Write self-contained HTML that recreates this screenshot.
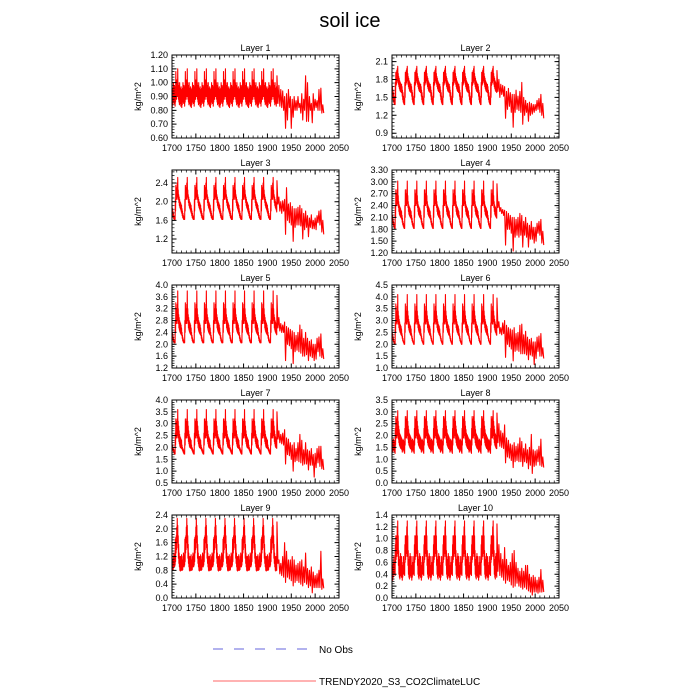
<!DOCTYPE html>
<html><head><meta charset="utf-8"><style>
html,body{margin:0;padding:0;background:#fff;}
svg{display:block;font-family:"Liberation Sans",sans-serif;}
</style></head><body>
<svg id="chart" width="700" height="700" viewBox="0 0 700 700" xmlns="http://www.w3.org/2000/svg">
<text x="350" y="27" text-anchor="middle" font-size="20">soil ice</text>
<g id="panels"></g>
<g>
<line x1="213" y1="649" x2="307" y2="649" stroke="#6666dd" stroke-width="1" stroke-dasharray="10,11"/>
<text x="319" y="653" font-size="10">No Obs</text>
<line x1="213" y1="681" x2="316" y2="681" stroke="#ff6666" stroke-width="1"/>
<text x="319" y="685" font-size="10">TRENDY2020_S3_CO2ClimateLUC</text>
</g>
</svg>
<script>
const layerNames=["Layer 1","Layer 2","Layer 3","Layer 4","Layer 5","Layer 6","Layer 7","Layer 8","Layer 9","Layer 10"];
const xTicks=[1700,1750,1800,1850,1900,1950,2000,2050];
const yTicks1=[0.6,0.7,0.8,0.9,1.0,1.1,1.2];
const yTicks2=[0.9,1.2,1.5,1.8,2.1];
const yTicks3=[1.2,1.6,2.0,2.4];
const yTicks4=[1.2,1.5,1.8,2.1,2.4,2.7,3.0,3.3];
const yTicks5=[1.2,1.6,2.0,2.4,2.8,3.2,3.6,4.0];
const yTicks6=[1.0,1.5,2.0,2.5,3.0,3.5,4.0,4.5];
const yTicks7=[0.5,1.0,1.5,2.0,2.5,3.0,3.5,4.0];
const yTicks8=[0.0,0.5,1.0,1.5,2.0,2.5,3.0,3.5];
const yTicks9=[0.0,0.4,0.8,1.2,1.6,2.0,2.4];
const yTicks10=[0.0,0.2,0.4,0.6,0.8,1.0,1.2,1.4];
const yRanges=[[0.6,1.2],[0.82,2.21],[0.9,2.68],[1.2,3.3],[1.2,4.0],[1.0,4.5],[0.5,4.0],[0.0,3.5],[0.0,2.4],[0.0,1.4]];
const cycleStartYears=[1700,1720,1740,1760,1780,1800,1820,1840,1860,1880,1900];
const tailYears=[1920,1924,1928,1932,1936,1940,1944,1948,1952,1956,1960,1964,1968,1972,1976,1980,1984,1988,1992,1996,2000,2004,2008,2012,2016];

const cycHi1=[0.95,0.92,0.96,1.00,0.95,0.98,0.92,0.97,1.08,1.00,1.02,1.00,1.10,1.00,0.98,0.95,1.00,0.96,0.94,0.97];
const cycLo1=[0.82,0.84,0.86,0.88,0.85,0.86,0.83,0.86,0.90,0.88,0.90,0.90,0.93,0.88,0.86,0.84,0.86,0.85,0.83,0.85];
const tailHi1=[1.05,0.98,0.95,0.94,0.90,0.92,0.95,0.90,0.88,0.90,0.87,0.90,0.85,0.92,0.88,1.05,1.00,0.90,0.85,0.92,0.88,0.87,0.95,0.96,0.84];
const tailLo1=[0.85,0.83,0.82,0.80,0.67,0.73,0.82,0.67,0.75,0.80,0.80,0.82,0.78,0.73,0.80,0.72,0.72,0.80,0.71,0.80,0.82,0.80,0.80,0.78,0.78];

const cycHi2=[1.72,1.68,1.62,1.58,1.52,1.48,1.45,1.75,1.92,1.90,1.95,1.98,2.02,1.90,1.85,1.82,1.78,1.76,1.74,1.72];
const cycLo2=[1.58,1.52,1.46,1.42,1.40,1.38,1.38,1.50,1.70,1.72,1.75,1.78,1.80,1.72,1.68,1.65,1.62,1.60,1.60,1.58];
const tailHi2=[1.95,1.80,1.72,1.70,1.68,1.60,1.65,1.58,1.55,1.55,1.62,1.52,1.60,1.75,1.50,1.45,1.40,1.42,1.40,1.38,1.38,1.45,1.48,1.55,1.40];
const tailLo2=[1.60,1.50,1.55,1.52,1.15,1.30,1.35,1.25,1.00,1.25,1.30,1.28,1.25,1.05,1.20,1.25,1.10,1.20,1.22,1.25,1.28,1.30,1.25,1.20,1.15];

const cycHi3=[1.92,1.85,1.80,1.75,1.70,1.68,1.66,2.05,2.35,2.30,2.20,2.40,2.52,2.25,2.15,2.10,2.05,2.00,1.98,1.95];
const cycLo3=[1.75,1.70,1.66,1.64,1.62,1.62,1.62,1.80,2.05,2.10,2.05,2.10,2.15,2.05,1.98,1.92,1.88,1.85,1.82,1.78];
const tailHi3=[2.45,2.10,2.00,2.02,2.05,2.30,1.95,1.98,1.90,1.85,1.85,1.88,1.92,1.85,1.75,1.80,1.70,1.65,1.72,1.60,1.65,1.70,1.80,1.82,1.60];
const tailLo3=[1.95,1.80,1.75,1.80,1.30,1.60,1.55,1.50,1.15,1.45,1.50,1.50,1.48,1.20,1.40,1.45,1.25,1.45,1.42,1.42,1.40,1.55,1.50,1.35,1.30];

const cycHi4=[2.25,2.15,2.08,2.00,1.95,1.90,1.88,2.40,2.80,2.70,2.60,2.80,3.02,2.65,2.50,2.42,2.38,2.35,2.32,2.28];
const cycLo4=[2.05,1.98,1.92,1.88,1.85,1.82,1.82,2.10,2.40,2.45,2.40,2.45,2.50,2.35,2.25,2.18,2.15,2.12,2.10,2.08];
const tailHi4=[2.95,2.50,2.35,2.30,2.28,2.25,2.20,2.15,2.10,2.10,2.05,2.10,2.20,2.15,2.00,2.10,1.95,1.90,2.00,1.85,1.85,1.95,2.00,2.05,1.75];
const tailLo4=[2.35,2.25,2.20,2.15,1.40,1.80,1.80,1.70,1.25,1.60,1.65,1.60,1.65,1.35,1.65,1.60,1.35,1.55,1.55,1.45,1.50,1.70,1.65,1.45,1.40];

const cycHi5=[2.55,2.40,2.30,2.22,2.15,2.10,2.08,2.80,3.40,3.20,3.00,3.35,3.80,3.20,3.00,2.90,2.80,2.75,2.70,2.65];
const cycLo5=[2.30,2.20,2.12,2.08,2.05,2.05,2.05,2.40,2.70,2.80,2.70,2.80,2.90,2.70,2.55,2.48,2.42,2.38,2.35,2.32];
const tailHi5=[3.65,2.90,2.70,2.65,2.75,2.60,2.55,2.50,2.45,2.40,2.30,2.40,2.65,2.50,2.20,2.40,2.20,2.10,2.15,2.00,2.00,2.20,2.25,2.35,1.85];
const tailLo5=[2.55,2.45,2.40,2.40,1.45,2.00,1.95,1.85,1.35,1.75,1.80,1.75,1.70,1.60,1.60,1.65,1.45,1.60,1.55,1.45,1.50,1.75,1.60,1.55,1.50];

const cycHi6=[2.65,2.45,2.35,2.25,2.15,2.10,2.05,2.90,3.70,3.40,3.20,3.60,4.10,3.40,3.20,3.05,2.95,2.85,2.80,2.75];
const cycLo6=[2.35,2.25,2.15,2.10,2.05,2.00,2.00,2.50,2.90,2.95,2.85,2.95,3.10,2.85,2.70,2.60,2.52,2.48,2.42,2.38];
const tailHi6=[3.95,2.95,2.70,2.90,3.00,2.80,2.70,2.65,2.60,2.70,2.45,2.50,2.80,2.85,2.40,2.55,2.30,2.20,2.25,2.10,2.10,2.30,2.35,2.45,1.85];
const tailLo6=[2.70,2.45,2.40,2.45,1.45,2.00,1.90,1.80,1.30,1.70,1.75,1.70,1.60,1.60,1.60,1.55,1.35,1.55,1.50,1.15,1.40,1.70,1.50,1.50,1.40];

const cycHi7=[2.30,2.10,2.00,1.95,1.90,1.85,1.80,2.60,3.20,3.10,3.00,3.20,3.60,3.10,2.90,2.70,2.55,2.45,2.40,2.35];
const cycLo7=[1.95,1.90,1.85,1.80,1.75,1.72,1.72,2.10,2.40,2.50,2.40,2.50,2.60,2.40,2.25,2.15,2.05,2.00,1.98,1.96];
const tailHi7=[3.50,2.70,2.55,2.60,2.75,2.40,2.35,2.20,2.10,2.20,1.95,2.20,2.55,2.30,1.90,2.20,1.90,1.85,1.95,1.70,1.75,1.95,2.05,2.05,1.50];
const tailLo7=[2.35,2.20,2.15,2.10,1.30,1.70,1.65,1.50,1.00,1.40,1.45,1.40,1.35,1.25,1.30,1.30,1.05,1.25,1.25,0.75,1.15,1.35,1.20,1.10,1.05];

const cycHi8=[1.90,1.80,1.75,1.85,1.80,1.75,1.70,2.30,2.80,2.70,2.60,2.80,3.05,2.60,2.40,2.25,2.10,2.05,2.00,1.95];
const cycLo8=[1.40,1.30,1.35,1.45,1.40,1.30,1.25,1.60,1.90,2.00,1.90,2.00,2.10,1.85,1.70,1.60,1.55,1.50,1.45,1.45];
const tailHi8=[2.95,2.50,2.20,2.10,2.45,1.90,1.80,1.65,1.60,1.70,1.55,1.65,1.90,1.75,1.45,1.65,1.40,1.50,2.05,1.40,1.35,1.40,1.55,1.85,1.10];
const tailLo8=[1.70,1.55,1.50,1.45,0.85,1.10,1.05,0.95,0.65,0.90,0.95,0.90,0.90,0.70,0.90,0.85,0.60,0.75,0.40,0.70,0.75,0.90,0.75,0.70,0.65];

const cycHi9=[1.25,1.00,1.10,1.20,1.30,1.20,1.25,1.70,1.75,1.80,2.05,2.30,2.10,1.80,1.55,1.30,1.20,1.10,1.20,1.10];
const cycLo9=[0.85,0.80,0.82,0.90,0.92,0.90,0.95,1.05,1.30,1.40,1.60,1.75,1.45,1.15,1.00,0.90,0.80,0.78,0.85,0.80];
const tailHi9=[2.20,1.10,1.00,1.20,1.60,1.35,1.10,1.10,1.20,1.10,0.95,1.00,1.05,1.10,0.90,1.30,0.85,0.80,0.90,0.75,0.65,0.70,0.80,1.35,0.55];
const tailLo9=[1.00,0.70,0.65,0.60,0.45,0.60,0.55,0.50,0.35,0.45,0.50,0.45,0.40,0.35,0.45,0.40,0.30,0.35,0.15,0.30,0.30,0.30,0.30,0.25,0.28];

const cycHi10=[0.70,0.55,0.50,0.60,0.70,0.55,0.60,0.90,1.05,1.00,1.05,1.20,1.30,1.05,0.80,0.65,0.60,0.70,0.75,0.65];
const cycLo10=[0.35,0.30,0.35,0.40,0.42,0.40,0.38,0.60,0.65,0.70,0.75,0.80,0.70,0.55,0.40,0.35,0.32,0.38,0.40,0.35];
const tailHi10=[1.25,0.90,0.75,0.65,0.85,0.65,0.55,0.60,0.75,0.80,0.60,0.50,0.45,0.50,0.45,0.55,0.55,0.40,0.35,0.38,0.35,0.30,0.35,0.48,0.30];
const tailLo10=[0.45,0.38,0.35,0.30,0.25,0.30,0.28,0.22,0.18,0.20,0.25,0.20,0.18,0.15,0.18,0.15,0.12,0.10,0.05,0.10,0.10,0.08,0.10,0.10,0.10];

const yTickSets=[yTicks1,yTicks2,yTicks3,yTicks4,yTicks5,yTicks6,yTicks7,yTicks8,yTicks9,yTicks10];
const cycHis=[cycHi1,cycHi2,cycHi3,cycHi4,cycHi5,cycHi6,cycHi7,cycHi8,cycHi9,cycHi10];
const cycLos=[cycLo1,cycLo2,cycLo3,cycLo4,cycLo5,cycLo6,cycLo7,cycLo8,cycLo9,cycLo10];
const tailHis=[tailHi1,tailHi2,tailHi3,tailHi4,tailHi5,tailHi6,tailHi7,tailHi8,tailHi9,tailHi10];
const tailLos=[tailLo1,tailLo2,tailLo3,tailLo4,tailLo5,tailLo6,tailLo7,tailLo8,tailLo9,tailLo10];

const NS="http://www.w3.org/2000/svg";
const root=document.getElementById('panels');
function mk(tag,attrs,parent){const e=document.createElementNS(NS,tag);for(const k in attrs)e.setAttribute(k,attrs[k]);parent.appendChild(e);return e;}
const X0=[172,392],W=167,TOPS=[55,170,285,400,515],H=83;
const XMIN=1700,XMAX=2050;

for(let i=0;i<10;i++){
  const col=i%2,row=Math.floor(i/2);
  const x0=X0[col],y0=TOPS[row];
  const [ymin,ymax]=yRanges[i];
  const xs=v=>x0+(v-XMIN)/(XMAX-XMIN)*W;
  const ys=v=>y0+H-(v-ymin)/(ymax-ymin)*H;
  const g=mk('g',{},root);
  
  
  const t=mk('text',{x:x0+W/2,y:y0-4,'text-anchor':'middle','font-size':'9'},g);
  t.textContent=layerNames[i];
  
  
  const yl=mk('text',{x:0,y:0,'text-anchor':'middle','font-size':'9',transform:`translate(${x0-31},${y0+H/2}) rotate(-90)`},g);
  yl.textContent='kg/m^2';
  
  
  let pts=[];
  for(const sy of cycleStartYears){
    for(let k=0;k<20;k++){
      pts.push([xs(sy+k),ys(cycHis[i][k])]);
      pts.push([xs(sy+k+0.5),ys(cycLos[i][k])]);
    }
  }
  for(let k=0;k<tailYears.length;k++){
    pts.push([xs(tailYears[k]),ys(tailHis[i][k])]);
    pts.push([xs(tailYears[k]+2),ys(tailLos[i][k])]);
  }
  const line=mk('polyline',{points:pts.map(p=>p[0].toFixed(2)+','+p[1].toFixed(2)).join(' '),fill:'none',stroke:'#ff0000','stroke-width':'1.1','stroke-linejoin':'round'},g);
  
  
  const fr=mk('rect',{x:x0,y:y0,width:W,height:H,fill:'none',stroke:'#000','stroke-width':'1'},g);
  
  
  let d='',dm='';
  for(let v=XMIN;v<=XMAX;v+=10){
    const x=xs(v);
    if(v%50===0) d+=`M${x},${y0+H}v-4.5M${x},${y0}v4.5`;
    else dm+=`M${x},${y0+H}v-2.5M${x},${y0}v2.5`;
  }
  xTicks.forEach(v=>{
    const tx=mk('text',{x:xs(v),y:y0+H+13,'text-anchor':'middle','font-size':'9'},g);
    tx.textContent=v;
    
    
  });
  const yt=yTickSets[i];
  const step=yt[1]-yt[0],dec=(i===0||i===3)?2:1;
  for(let v=yt[0]-step;v<=yt[yt.length-1]+step+1e-9;v+=step/5){
    if(v<ymin-1e-9||v>ymax+1e-9)continue;
    const y=ys(v);
    dm+=`M${x0},${y}h2.5M${x0+W},${y}h-2.5`;
  }
  yt.forEach(v=>{
    const y=ys(v);
    d+=`M${x0},${y}h4.5M${x0+W},${y}h-4.5`;
    const ty=mk('text',{x:x0-4,y:y+3,'text-anchor':'end','font-size':'9'},g);
    ty.textContent=v.toFixed(dec);
    
    
  });
  const tk=mk('path',{d:d,stroke:'#000','stroke-width':'1',fill:'none'},g);
  
  
  const tm=mk('path',{d:dm,stroke:'#000','stroke-width':'0.7',fill:'none'},g);
  
  
}
</script>
</body></html>
